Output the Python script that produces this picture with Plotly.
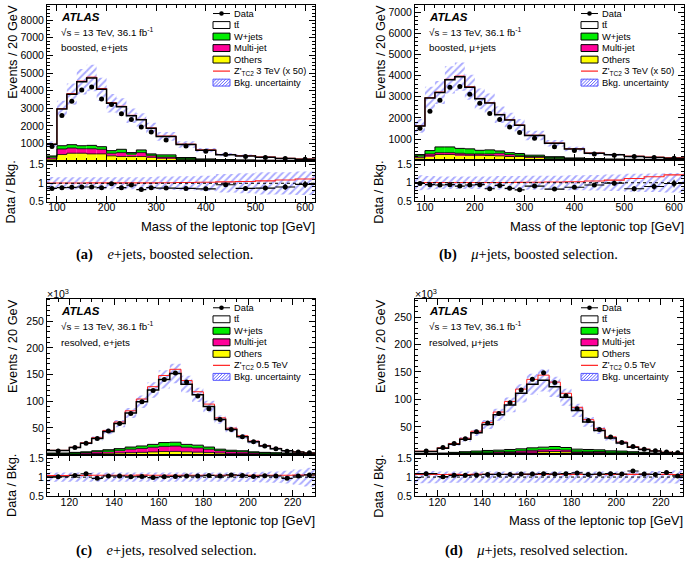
import math
import plotly.graph_objects as go

W, H = 685, 566
FONT = "Liberation Sans, Arial, sans-serif"
SERIF = "Liberation Serif, Times New Roman, serif"

# ---------------- data ----------------
edges_boosted = [80, 100, 120, 140, 160, 180, 200, 220, 240, 260, 280, 300, 340, 380, 420, 460, 500, 540, 580, 620]
edges_resolved = [110, 120, 125, 130, 135, 140, 145, 150, 155, 160, 165, 170, 175, 180, 185, 190, 195, 200, 205,
                  210, 215, 220, 225, 230]

# (a) boosted e+jets (events)
data_a = [830, 2580, 3400, 4030, 4200, 3530, 3210, 2690, 2360, 1930, 1650, 1200, 850, 550, 370, 255, 200, 145, 105]
total_a = [950, 2950, 3800, 4500, 4720, 4080, 3280, 3080, 2570, 2340, 1860, 1400, 940, 620, 360, 290, 220, 145, 105]
others_a = [110, 370, 443, 443, 406, 406, 294, 257, 257, 257, 220, 170, 100, 60, 40, 30, 22, 15, 10]
multijet_a = [120, 315, 297, 257, 294, 261, 149, 223, 149, 223, 111, 60, 30, 20, 12, 10, 6, 4, 3]
wjets_a = [60, 185, 190, 170, 190, 148, 147, 187, 74, 150, 75, 120, 70, 40, 30, 25, 20, 14, 10]
signal_a = [8, 25, 35, 40, 45, 40, 35, 32, 28, 26, 22, 22, 20, 18, 14, 14, 14, 13, 12]
unc_a = [0.17, 0.16, 0.16, 0.16, 0.16, 0.16, 0.16, 0.16, 0.16, 0.16, 0.17, 0.18, 0.19, 0.2, 0.25, 0.27, 0.3, 0.3, 0.32]
ratio_a = [0.86, 0.88, 0.89, 0.90, 0.90, 0.88, 0.99, 0.88, 0.95, 0.83, 0.88, 0.87, 0.86, 0.85, 0.96, 0.86, 0.87,
           0.90, 0.97]

# (b) boosted mu+jets (events)
data_b = [1510, 2320, 2840, 3450, 3480, 3120, 2690, 2210, 1930, 1570, 1310, 1045, 640, 455, 300, 240, 175, 130, 100]
total_b = [1620, 2940, 3200, 3800, 3950, 3450, 2900, 2700, 2150, 1900, 1650, 1170, 800, 530, 330, 255, 175, 130, 100]
others_b = [115, 208, 270, 270, 254, 240, 240, 223, 208, 177, 177, 146, 100, 65, 45, 32, 24, 18, 12]
multijet_b = [95, 92, 90, 90, 76, 60, 60, 77, 122, 93, 63, 24, 20, 15, 10, 8, 6, 4, 3]
wjets_b = [60, 156, 270, 270, 230, 240, 170, 190, 110, 90, 80, 70, 50, 30, 25, 20, 15, 13, 10]
signal_b = [5, 15, 20, 25, 28, 25, 22, 20, 18, 16, 15, 14, 15, 15, 15, 18, 20, 21, 21]
unc_b = [0.2, 0.18, 0.17, 0.17, 0.17, 0.17, 0.17, 0.17, 0.18, 0.18, 0.18, 0.19, 0.19, 0.2, 0.21, 0.22, 0.24, 0.25, 0.26]
ratio_b = [0.98, 0.95, 0.94, 0.95, 0.91, 0.94, 0.95, 0.84, 0.93, 0.85, 0.81, 0.91, 0.83, 0.88, 0.94, 0.99, 0.84,
           0.90, 0.98]

# (c) resolved e+jets (x10^3 events)
data_c = [6.4, 13, 21, 30, 44, 58, 77, 99, 120, 141, 153, 136, 110, 86, 65.5, 47, 33.5, 24, 16, 11, 6, 4.5, 3.3]
total_c = [7.5, 13, 21, 30, 43, 58, 78, 99, 121, 141, 152, 132, 112, 90, 65.5, 47, 33.5, 24, 16, 11, 7, 4.5, 2.7]
others_c = [0.8, 1.0, 1.3, 1.8, 2.3, 2.8, 3.4, 4.0, 4.8, 5.6, 5.8, 5.0, 4.4, 3.6, 2.7, 2.1, 1.8, 1.3, 1.0, 0.8, 0.7,
            0.5, 0.4]
multijet_c = [1.2, 1.8, 2.4, 3.3, 4.3, 5.3, 6.6, 7.4, 8.8, 9.6, 10.0, 8.6, 7.8, 6.2, 4.4, 3.6, 3.1, 2.2, 1.8, 1.5, 1.2,
              0.9, 0.7]
wjets_c = [0.7, 1.2, 1.3, 1.9, 2.4, 2.9, 4.0, 4.6, 5.4, 7.2, 7.2, 5.4, 5.3, 4.2, 2.9, 2.3, 2.1, 1.5, 1.2, 1.0, 0.8,
           0.6, 0.4]
signal_c = [0.3, 0.6, 1.0, 1.5, 2.2, 3.0, 4.0, 5.2, 6.3, 7.3, 7.9, 6.9, 5.8, 4.6, 3.3, 2.4, 1.7, 1.2, 0.8, 0.55, 0.36,
            0.24, 0.15]
unc_c = [0.12, 0.12, 0.12, 0.12, 0.12, 0.12, 0.12, 0.12, 0.12, 0.12, 0.12, 0.12, 0.12, 0.12, 0.12, 0.12, 0.13, 0.13,
         0.14, 0.15, 0.17, 0.2, 0.25]
ratio_c = [1.01, 1.045, 1.09, 0.97, 1.03, 1.03, 1.01, 1.02, 0.99, 1.01, 1.02, 1.03, 1.03, 1.045, 1.03, 1.06, 1.045,
           1.02, 1.035, 1.03, 0.97, 1.03, 1.06]

# (d) resolved mu+jets (x10^3 events)
data_d = [5.9, 12.4, 19.6, 28.5, 41, 57, 74.5, 94, 117, 136.6, 148.7, 131, 106.8, 83, 61.4, 45.3, 31.5, 21.4, 14.2,
          9.4, 6.4, 4, 2.9]
total_d = [5.3, 11.2, 18.4, 27.3, 39.3, 54.2, 72, 90, 111, 127.6, 134.8, 122.9, 103.8, 80, 59, 43.5, 29.7, 20.8, 13,
           8.8, 5.9, 3.5, 2.3]
others_d = [0.6, 0.8, 1.3, 1.7, 2.1, 2.5, 2.7, 3.2, 3.6, 4.2, 4.7, 5.1, 4.5, 3.4, 3.2, 3.0, 2.3, 2.1, 1.7, 1.3, 0.8,
            0.6, 0.4]
multijet_d = [0.45, 0.6, 0.9, 1.2, 1.5, 1.8, 2.0, 2.3, 2.6, 3.1, 3.4, 3.7, 3.2, 2.4, 2.3, 2.1, 1.7, 1.5, 1.2, 0.9, 0.6,
              0.45, 0.3]
wjets_d = [0.65, 0.9, 1.3, 1.8, 2.3, 2.7, 2.9, 3.3, 3.8, 4.5, 4.9, 5.4, 4.7, 3.6, 3.3, 3.1, 2.4, 2.3, 1.8, 1.3, 0.9,
           0.65, 0.4]
signal_d = [0.37, 0.78, 1.29, 1.9, 2.75, 3.8, 5.0, 6.3, 7.8, 8.9, 9.4, 8.6, 7.3, 5.6, 4.1, 3.0, 2.1, 1.46, 0.91, 0.62,
            0.41, 0.25, 0.16]
unc_d = [0.16, 0.15, 0.15, 0.15, 0.15, 0.15, 0.15, 0.15, 0.15, 0.15, 0.15, 0.15, 0.15, 0.15, 0.15, 0.15, 0.15, 0.15,
         0.15, 0.15, 0.16, 0.16, 0.17]
ratio_d = [1.09, 1.01, 1.045, 1.045, 1.055, 1.07, 1.07, 1.07, 1.08, 1.08, 1.09, 1.08, 1.09, 1.11, 1.07, 1.08, 1.09,
           1.08, 1.16, 1.08, 1.07, 1.12, 1.03]

yticks_a = [1000, 2000, 3000, 4000, 5000, 6000, 7000, 8000]
yticks_b = [1000, 2000, 3000, 4000, 5000, 6000, 7000]
yticks_res = [50, 100, 150, 200, 250]
ratio_ticks = [0.5, 1, 1.5]
ratio_ticktext = ["0.5", "1", "1.5"]

legend_boosted = ["Data", "t\u0074\u0304", "W+jets", "Multi-jet", "Others",
                  "Z'<sub>TC2</sub> 3 TeV (x 50)", "Bkg. uncertainty"]
legend_resolved = ["Data", "t\u0074\u0304", "W+jets", "Multi-jet", "Others",
                   "Z'<sub>TC2</sub> 0.5 TeV", "Bkg. uncertainty"]

# ---------------- styles ----------------
YELLOW = "#ffff00"
MAGENTA = "#ff0099"
GREEN = "#00ee00"
HATCH = "rgb(85,85,255)"
RED = "#ff2020"

panels = [
    dict(edges=edges_boosted, data=data_a, total=total_a, others=others_a, mj=multijet_a, wj=wjets_a,
         sig=signal_a, unc=unc_a, ratio=ratio_a, scale=1, yr=[0, 8880], yt=yticks_a, ymin=200,
         xd=100, xmin=20, geo=(47, 315, 1.7, 160.6, 202), legend=legend_boosted,
         info=("boosted, e+jets"), cap="<b>(a)</b>\u2003<i>e</i>+jets, boosted selection.", capx=164, capy=256,
         x10=False),
    dict(edges=edges_boosted, data=data_b, total=total_b, others=others_b, mj=multijet_b, wj=wjets_b,
         sig=signal_b, unc=unc_b, ratio=ratio_b, scale=1, yr=[0, 7350], yt=yticks_b, ymin=200,
         xd=100, xmin=20, geo=(415, 684, 1.7, 159.8, 201.7), legend=legend_boosted,
         info=("boosted, \u03bc+jets"), cap="<b>(b)</b>\u2003<i>\u03bc</i>+jets, boosted selection.", capx=528,
         capy=256, x10=False),
    dict(edges=edges_resolved, data=data_c, total=total_c, others=others_c, mj=multijet_c, wj=wjets_c,
         sig=signal_c, unc=unc_c, ratio=ratio_c, scale=1000, yr=[0, 292], yt=yticks_res, ymin=10,
         xd=20, xmin=5, geo=(47, 315, 300.7, 458.8, 501), legend=legend_resolved,
         info=("resolved, e+jets"), cap="<b>(c)</b>\u2003<i>e</i>+jets, resolved selection.", capx=166, capy=556,
         x10=True),
    dict(edges=edges_resolved, data=data_d, total=total_d, others=others_d, mj=multijet_d, wj=wjets_d,
         sig=signal_d, unc=unc_d, ratio=ratio_d, scale=1000, yr=[0, 283], yt=yticks_res, ymin=10,
         xd=20, xmin=5, geo=(415, 683.3, 300.7, 458.6, 501), legend=legend_resolved,
         info=("resolved, \u03bc+jets"), cap="<b>(d)</b>\u2003<i>\u03bc</i>+jets, resolved selection.", capx=536,
         capy=556, x10=True),
]


def px(x):
    return x / W


def py(y):
    return 1 - y / H


def ann(text, x, y, size, xanchor="left", yanchor="middle", angle=0, family=FONT):
    return dict(text=text, x=px(x), y=py(y), xref="paper", yref="paper", xanchor=xanchor, yanchor=yanchor,
                showarrow=False, textangle=angle, borderpad=0, borderwidth=0,
                font=dict(family=family, size=size, color="black"))


def axis_base():
    return dict(showline=True, linecolor="black", linewidth=1, mirror="allticks", ticks="inside", ticklen=6,
                tickwidth=1, tickcolor="black", showgrid=False, zeroline=False, ticklabeloverflow="allow",
                tickfont=dict(family=FONT, size=10.5, color="black"))


def step_xy(edges, vals):
    return list(edges), list(vals) + [vals[-1]]


PATTERN = dict(shape="/", fgcolor=HATCH, bgcolor="rgba(0,0,0,0)", size=5, solidity=0.38, fillmode="overlay")

fig = go.Figure()
layout = dict(width=W, height=H, margin=dict(l=0, r=0, t=0, b=0), plot_bgcolor="white",
              paper_bgcolor="white", showlegend=False, barmode="overlay")
annotations = []
shapes = []

for i, p in enumerate(panels):
    m, r = 2 * i + 1, 2 * i + 2
    xm = "x" if m == 1 else f"x{m}"
    ym = "y" if m == 1 else f"y{m}"
    xr_, yr_ = f"x{r}", f"y{r}"
    edges = p["edges"]
    n = len(edges) - 1
    centers = [(edges[k] + edges[k + 1]) / 2 for k in range(n)]
    widths = [edges[k + 1] - edges[k] for k in range(n)]
    others, mj, wj, total = p["others"], p["mj"], p["wj"], p["total"]
    cum1 = others
    cum2 = [others[k] + mj[k] for k in range(n)]
    cum3 = [cum2[k] + wj[k] for k in range(n)]
    ttbar = [total[k] - cum3[k] for k in range(n)]
    sigtot = [total[k] + p["sig"][k] for k in range(n)]

    # stacked background
    for base, vals, col in [([0] * n, others, YELLOW), (cum1, mj, MAGENTA), (cum2, wj, GREEN),
                            (cum3, ttbar, "white")]:
        fig.add_trace(go.Bar(x=centers, y=vals, base=base, width=widths,
                             marker=dict(color=col, line=dict(width=0)), xaxis=xm, yaxis=ym, hoverinfo="skip"))
    for vals, lw in [(cum1, 0.8), (cum2, 0.8), (cum3, 1.0)]:
        sx, sy = step_xy(edges, vals)
        fig.add_trace(go.Scatter(x=sx, y=sy, mode="lines", line=dict(color="black", width=lw, shape="hv"),
                                 xaxis=xm, yaxis=ym, hoverinfo="skip"))
    # hatch band
    fig.add_trace(go.Bar(x=centers, y=[2 * total[k] * p["unc"][k] for k in range(n)],
                         base=[total[k] * (1 - p["unc"][k]) for k in range(n)], width=widths,
                         marker=dict(color="rgba(0,0,0,0)", line=dict(width=0), pattern=PATTERN),
                         xaxis=xm, yaxis=ym, hoverinfo="skip"))
    sx, sy = step_xy(edges, sigtot)
    fig.add_trace(go.Scatter(x=sx, y=sy, mode="lines", line=dict(color=RED, width=1.0, shape="hv"),
                             xaxis=xm, yaxis=ym, hoverinfo="skip"))
    sx, sy = step_xy(edges, total)
    fig.add_trace(go.Scatter(x=sx, y=sy, mode="lines", line=dict(color="black", width=1.5, shape="hv"),
                             xaxis=xm, yaxis=ym, hoverinfo="skip"))
    s = p["scale"]
    fig.add_trace(go.Scatter(x=centers, y=p["data"], mode="markers", marker=dict(color="black", size=5),
                             error_y=dict(type="data", array=[math.sqrt(d * s) / s for d in p["data"]],
                                          color="black", thickness=1, width=0),
                             xaxis=xm, yaxis=ym, hoverinfo="skip"))

    # ratio panel
    u = p["unc"]
    fig.add_trace(go.Bar(x=centers, y=[2 * v for v in u], base=[1 - v for v in u], width=widths,
                         marker=dict(color="rgba(0,0,0,0)", line=dict(width=0), pattern=PATTERN),
                         xaxis=xr_, yaxis=yr_, hoverinfo="skip"))
    sx, sy = step_xy(edges, [sigtot[k] / total[k] for k in range(n)])
    fig.add_trace(go.Scatter(x=sx, y=sy, mode="lines", line=dict(color=RED, width=1.1, shape="hv"),
                             xaxis=xr_, yaxis=yr_, hoverinfo="skip"))
    fig.add_trace(go.Scatter(x=centers, y=p["ratio"], mode="markers", marker=dict(color="black", size=5),
                             error_x=dict(type="data", array=[w / 2 for w in widths], color="black",
                                          thickness=1.2, width=0),
                             error_y=dict(type="data",
                                          array=[p["ratio"][k] / math.sqrt(p["data"][k] * s) for k in range(n)],
                                          color="black", thickness=1.2, width=0),
                             xaxis=xr_, yaxis=yr_, hoverinfo="skip"))
    shapes.append(dict(type="line", xref=f"{xr_} domain", x0=0, x1=1, yref=yr_, y0=1, y1=1,
                       line=dict(color="black", width=1, dash="dot")))

    xl, xrt, ytop, ysplit, ybot = p["geo"]
    xrange = [edges[0], edges[-1]]
    ax = axis_base()
    ax.update(domain=[px(xl), px(xrt)], anchor=ym, range=xrange, showticklabels=False, dtick=p["xd"], tick0=0,
              minor=dict(ticks="inside", ticklen=3, dtick=p["xmin"], tick0=0, tickcolor="black"))
    layout["xaxis" if m == 1 else f"xaxis{m}"] = ax
    ay = axis_base()
    ay.update(domain=[py(ysplit), py(ytop)], anchor=xm, range=p["yr"], tickmode="array", tickvals=p["yt"],
              minor=dict(ticks="inside", ticklen=3, dtick=p["ymin"], tick0=0, tickcolor="black"))
    layout["yaxis" if m == 1 else f"yaxis{m}"] = ay
    axr = axis_base()
    axr.update(domain=[px(xl), px(xrt)], anchor=yr_, range=xrange, dtick=p["xd"], tick0=0, ticklabelstandoff=-4,
               minor=dict(ticks="inside", ticklen=3, dtick=p["xmin"], tick0=0, tickcolor="black"))
    layout[f"xaxis{r}"] = axr
    ayr = axis_base()
    ayr.update(domain=[py(ybot), py(ysplit)], anchor=xr_, range=[0.5, 1.6], tickmode="array",
               tickvals=ratio_ticks, ticktext=ratio_ticktext,
               minor=dict(ticks="inside", ticklen=3, dtick=0.1, tick0=0, tickcolor="black"))
    layout[f"yaxis{r}"] = ayr

    # titles
    tx = xl - 34
    annotations.append(ann("Events / 20 GeV", tx, ytop, 12.8, xanchor="center", yanchor="top", angle=-90))
    annotations.append(ann("Data / Bkg.", tx - 2, ysplit, 12.8, xanchor="center", yanchor="top", angle=-90))
    annotations.append(ann("Mass of the leptonic top [GeV]", xrt, ybot + 25, 13, xanchor="right"))
    annotations.append(ann(p["cap"], p["capx"], p["capy"], 14.5, xanchor="center", family=SERIF))
    if p["x10"]:
        annotations.append(ann("\u00d710<sup>3</sup>", xl, ytop - 6, 10.5, xanchor="left"))

    # ATLAS labels
    lx = xl + 14
    annotations.append(ann("<b><i>ATLAS</i></b>", lx, ytop + 12.5, 11.5))
    annotations.append(ann("\u221as = 13 TeV, 36.1 fb<sup>-1</sup>", lx, ytop + 27.5, 9.8))
    annotations.append(ann(p["info"], lx, ytop + 44, 9.8))

    # legend
    gx0 = xl + 166
    gx1 = gx0 + 17
    for j, lab in enumerate(p["legend"]):
        yc = ytop + 9 + 11.7 * j
        annotations.append(ann(lab, gx1 + 4, yc, 9.3))
        y0, y1 = yc - 3.5, yc + 3.5
        if j == 0:
            shapes.append(dict(type="line", xref="paper", yref="paper", x0=px(gx0), x1=px(gx1), y0=py(yc),
                               y1=py(yc), line=dict(color="black", width=1)))
            shapes.append(dict(type="circle", xref="paper", yref="paper", x0=px((gx0 + gx1) / 2 - 2.3),
                               x1=px((gx0 + gx1) / 2 + 2.3), y0=py(yc - 2.3), y1=py(yc + 2.3),
                               fillcolor="black", line=dict(color="black", width=0)))
        elif j in (1, 2, 3, 4):
            col = ["white", GREEN, MAGENTA, YELLOW][j - 1]
            shapes.append(dict(type="rect", xref="paper", yref="paper", x0=px(gx0), x1=px(gx1), y0=py(y1),
                               y1=py(y0), fillcolor=col, line=dict(color="black", width=1)))
        elif j == 5:
            shapes.append(dict(type="line", xref="paper", yref="paper", x0=px(gx0), x1=px(gx1), y0=py(yc),
                               y1=py(yc), line=dict(color=RED, width=1.2)))
        else:
            h = y1 - y0
            segs = []
            st = gx0 - h
            while st < gx1:
                ax_, ay_ = st, y1
                bx_, by_ = st + h, y0
                if ax_ < gx0:
                    ay_ = y1 - (gx0 - ax_)
                    ax_ = gx0
                if bx_ > gx1:
                    by_ = y0 + (bx_ - gx1)
                    bx_ = gx1
                if bx_ > ax_:
                    segs.append(f"M{px(ax_):.5f},{py(ay_):.5f} L{px(bx_):.5f},{py(by_):.5f}")
                st += 3.2
            shapes.append(dict(type="path", xref="paper", yref="paper", path=" ".join(segs),
                               line=dict(color=HATCH, width=0.9)))
            shapes.append(dict(type="rect", xref="paper", yref="paper", x0=px(gx0), x1=px(gx1), y0=py(y1),
                               y1=py(y0), line=dict(color=HATCH, width=1)))

layout["annotations"] = annotations
layout["shapes"] = shapes
fig.update_layout(**layout)
fig.write_html("out.html", config={"displayModeBar": False},
               post_script="document.body.style.margin='0';document.body.style.padding='0';")
